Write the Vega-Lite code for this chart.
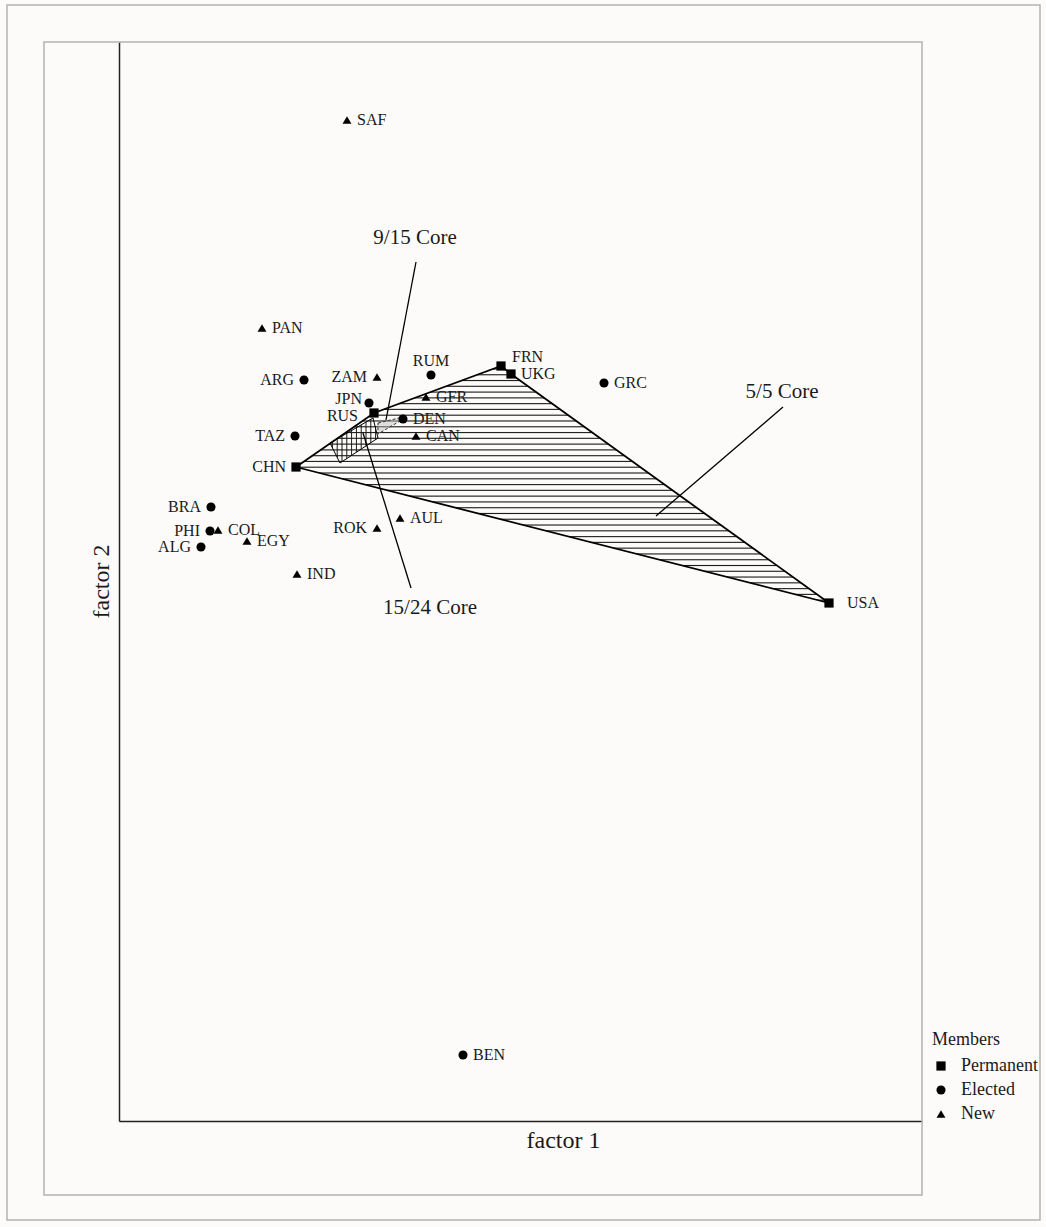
{
 "$schema": "https://vega.github.io/schema/vega-lite/v6.json",
 "width": 803,
 "height": 1079,
 "autosize": {"type": "none"},
 "padding": {"left": 119, "top": 42, "right": 124, "bottom": 106},
 "background": "#fdfbf9",
 "config": {
  "view": {"stroke": null},
  "font": "Liberation Serif",
  "axis": {"zindex": 1}
 },
 "datasets": {
  "members": [
   {"code": "SAF", "type": "New", "f1": 2.28, "f2": 10.01},
   {"code": "PAN", "type": "New", "f1": 1.43, "f2": 7.93},
   {"code": "ARG", "type": "Elected", "f1": 1.85, "f2": 7.41},
   {"code": "ZAM", "type": "New", "f1": 2.58, "f2": 7.44},
   {"code": "RUM", "type": "Elected", "f1": 3.12, "f2": 7.46},
   {"code": "FRN", "type": "Permanent", "f1": 3.82, "f2": 7.55},
   {"code": "UKG", "type": "Permanent", "f1": 3.92, "f2": 7.47},
   {"code": "GRC", "type": "Elected", "f1": 4.85, "f2": 7.38},
   {"code": "JPN", "type": "Elected", "f1": 2.5, "f2": 7.18},
   {"code": "RUS", "type": "Permanent", "f1": 2.55, "f2": 7.08},
   {"code": "DEN", "type": "Elected", "f1": 2.84, "f2": 7.02},
   {"code": "GFR", "type": "New", "f1": 3.07, "f2": 7.24},
   {"code": "CAN", "type": "New", "f1": 2.97, "f2": 6.85},
   {"code": "TAZ", "type": "Elected", "f1": 1.76, "f2": 6.85},
   {"code": "CHN", "type": "Permanent", "f1": 1.77, "f2": 6.54},
   {"code": "BRA", "type": "Elected", "f1": 0.92, "f2": 6.14},
   {"code": "PHI", "type": "Elected", "f1": 0.91, "f2": 5.9},
   {"code": "COL", "type": "New", "f1": 0.99, "f2": 5.91},
   {"code": "ALG", "type": "Elected", "f1": 0.82, "f2": 5.74},
   {"code": "EGY", "type": "New", "f1": 1.28, "f2": 5.8},
   {"code": "IND", "type": "New", "f1": 1.78, "f2": 5.47},
   {"code": "ROK", "type": "New", "f1": 2.58, "f2": 5.93},
   {"code": "AUL", "type": "New", "f1": 2.81, "f2": 6.03},
   {"code": "USA", "type": "Permanent", "f1": 7.1, "f2": 5.18},
   {"code": "BEN", "type": "Elected", "f1": 3.44, "f2": 0.66}
  ],
  "core55": [
   {"i": 0, "f1": 1.77, "f2": 6.54},
   {"i": 1, "f1": 2.55, "f2": 7.08},
   {"i": 2, "f1": 3.82, "f2": 7.55},
   {"i": 3, "f1": 3.92, "f2": 7.47},
   {"i": 4, "f1": 7.1, "f2": 5.18},
   {"i": 5, "f1": 1.77, "f2": 6.54}
  ],
  "core1524": [
   {"i": 0, "f1": 2.11, "f2": 6.78},
   {"i": 1, "f1": 2.54, "f2": 7.03},
   {"i": 2, "f1": 2.59, "f2": 6.83},
   {"i": 3, "f1": 2.21, "f2": 6.58},
   {"i": 4, "f1": 2.11, "f2": 6.78}
  ],
  "core915": [
   {"i": 0, "f1": 2.59, "f2": 6.98},
   {"i": 1, "f1": 2.84, "f2": 7.04},
   {"i": 2, "f1": 2.81, "f2": 7.0},
   {"i": 3, "f1": 2.59, "f2": 6.87},
   {"i": 4, "f1": 2.59, "f2": 6.98}
  ],
  "leaders": [
   {"label": "9/15 Core", "x1": 2.97, "y1": 8.59, "x2": 2.67, "y2": 7.01, "tx": 2.96, "ty": 8.83},
   {"label": "15/24 Core", "x1": 2.44, "y1": 6.88, "x2": 2.92, "y2": 5.33, "tx": 3.11, "ty": 5.13},
   {"label": "5/5 Core", "x1": 6.64, "y1": 7.14, "x2": 5.37, "y2": 6.05, "tx": 6.63, "ty": 7.29}
  ]
 },
 "layer": [
  {
   "data": {"values": [{}]},
   "mark": {"type": "rect", "filled": false, "stroke": "#b3b3b3", "strokeWidth": 1.5},
   "encoding": {
    "x": {"datum": -1.12, "type": "quantitative"},
    "x2": {"datum": 9.21},
    "y": {"datum": 11.16, "type": "quantitative"},
    "y2": {"datum": -0.99}
   }
  },
  {
   "data": {"values": [{}]},
   "mark": {"type": "rect", "filled": false, "stroke": "#b3b3b3", "strokeWidth": 1.5},
   "encoding": {
    "x": {"datum": -0.75, "type": "quantitative"},
    "x2": {"datum": 8.03},
    "y": {"datum": 10.79, "type": "quantitative"},
    "y2": {"datum": -0.74}
   }
  },
  {
   "data": {"name": "core55"},
   "mark": {
    "type": "line",
    "stroke": "black",
    "strokeWidth": 1.8,
    "strokeJoin": "miter",
    "fill": {
     "gradient": "linear", "x1": 0, "y1": 0, "x2": 0, "y2": 1,
     "stops": [
      {"offset": 0, "color": "transparent"},
      {"offset": 0.008, "color": "transparent"}, {"offset": 0.0125, "color": "#1a1a1a"}, {"offset": 0.017, "color": "transparent"},
      {"offset": 0.0324, "color": "transparent"}, {"offset": 0.0369, "color": "#1a1a1a"}, {"offset": 0.0414, "color": "transparent"},
      {"offset": 0.0568, "color": "transparent"}, {"offset": 0.0613, "color": "#1a1a1a"}, {"offset": 0.0658, "color": "transparent"},
      {"offset": 0.0812, "color": "transparent"}, {"offset": 0.0857, "color": "#1a1a1a"}, {"offset": 0.0902, "color": "transparent"},
      {"offset": 0.1056, "color": "transparent"}, {"offset": 0.1101, "color": "#1a1a1a"}, {"offset": 0.1146, "color": "transparent"},
      {"offset": 0.13, "color": "transparent"}, {"offset": 0.1345, "color": "#1a1a1a"}, {"offset": 0.139, "color": "transparent"},
      {"offset": 0.1543, "color": "transparent"}, {"offset": 0.1588, "color": "#1a1a1a"}, {"offset": 0.1633, "color": "transparent"},
      {"offset": 0.1787, "color": "transparent"}, {"offset": 0.1832, "color": "#1a1a1a"}, {"offset": 0.1877, "color": "transparent"},
      {"offset": 0.2031, "color": "transparent"}, {"offset": 0.2076, "color": "#1a1a1a"}, {"offset": 0.2121, "color": "transparent"},
      {"offset": 0.2275, "color": "transparent"}, {"offset": 0.232, "color": "#1a1a1a"}, {"offset": 0.2365, "color": "transparent"},
      {"offset": 0.2519, "color": "transparent"}, {"offset": 0.2564, "color": "#1a1a1a"}, {"offset": 0.2609, "color": "transparent"},
      {"offset": 0.2763, "color": "transparent"}, {"offset": 0.2808, "color": "#1a1a1a"}, {"offset": 0.2853, "color": "transparent"},
      {"offset": 0.3007, "color": "transparent"}, {"offset": 0.3052, "color": "#1a1a1a"}, {"offset": 0.3097, "color": "transparent"},
      {"offset": 0.3251, "color": "transparent"}, {"offset": 0.3296, "color": "#1a1a1a"}, {"offset": 0.3341, "color": "transparent"},
      {"offset": 0.3495, "color": "transparent"}, {"offset": 0.354, "color": "#1a1a1a"}, {"offset": 0.3585, "color": "transparent"},
      {"offset": 0.3739, "color": "transparent"}, {"offset": 0.3784, "color": "#1a1a1a"}, {"offset": 0.3829, "color": "transparent"},
      {"offset": 0.3982, "color": "transparent"}, {"offset": 0.4027, "color": "#1a1a1a"}, {"offset": 0.4072, "color": "transparent"},
      {"offset": 0.4226, "color": "transparent"}, {"offset": 0.4271, "color": "#1a1a1a"}, {"offset": 0.4316, "color": "transparent"},
      {"offset": 0.447, "color": "transparent"}, {"offset": 0.4515, "color": "#1a1a1a"}, {"offset": 0.456, "color": "transparent"},
      {"offset": 0.4714, "color": "transparent"}, {"offset": 0.4759, "color": "#1a1a1a"}, {"offset": 0.4804, "color": "transparent"},
      {"offset": 0.4958, "color": "transparent"}, {"offset": 0.5003, "color": "#1a1a1a"}, {"offset": 0.5048, "color": "transparent"},
      {"offset": 0.5202, "color": "transparent"}, {"offset": 0.5247, "color": "#1a1a1a"}, {"offset": 0.5292, "color": "transparent"},
      {"offset": 0.5446, "color": "transparent"}, {"offset": 0.5491, "color": "#1a1a1a"}, {"offset": 0.5536, "color": "transparent"},
      {"offset": 0.569, "color": "transparent"}, {"offset": 0.5735, "color": "#1a1a1a"}, {"offset": 0.578, "color": "transparent"},
      {"offset": 0.5934, "color": "transparent"}, {"offset": 0.5979, "color": "#1a1a1a"}, {"offset": 0.6024, "color": "transparent"},
      {"offset": 0.6178, "color": "transparent"}, {"offset": 0.6223, "color": "#1a1a1a"}, {"offset": 0.6268, "color": "transparent"},
      {"offset": 0.6421, "color": "transparent"}, {"offset": 0.6466, "color": "#1a1a1a"}, {"offset": 0.6511, "color": "transparent"},
      {"offset": 0.6665, "color": "transparent"}, {"offset": 0.671, "color": "#1a1a1a"}, {"offset": 0.6755, "color": "transparent"},
      {"offset": 0.6909, "color": "transparent"}, {"offset": 0.6954, "color": "#1a1a1a"}, {"offset": 0.6999, "color": "transparent"},
      {"offset": 0.7153, "color": "transparent"}, {"offset": 0.7198, "color": "#1a1a1a"}, {"offset": 0.7243, "color": "transparent"},
      {"offset": 0.7397, "color": "transparent"}, {"offset": 0.7442, "color": "#1a1a1a"}, {"offset": 0.7487, "color": "transparent"},
      {"offset": 0.7641, "color": "transparent"}, {"offset": 0.7686, "color": "#1a1a1a"}, {"offset": 0.7731, "color": "transparent"},
      {"offset": 0.7885, "color": "transparent"}, {"offset": 0.793, "color": "#1a1a1a"}, {"offset": 0.7975, "color": "transparent"},
      {"offset": 0.8129, "color": "transparent"}, {"offset": 0.8174, "color": "#1a1a1a"}, {"offset": 0.8219, "color": "transparent"},
      {"offset": 0.8373, "color": "transparent"}, {"offset": 0.8418, "color": "#1a1a1a"}, {"offset": 0.8463, "color": "transparent"},
      {"offset": 0.8617, "color": "transparent"}, {"offset": 0.8662, "color": "#1a1a1a"}, {"offset": 0.8707, "color": "transparent"},
      {"offset": 0.886, "color": "transparent"}, {"offset": 0.8905, "color": "#1a1a1a"}, {"offset": 0.895, "color": "transparent"},
      {"offset": 0.9104, "color": "transparent"}, {"offset": 0.9149, "color": "#1a1a1a"}, {"offset": 0.9194, "color": "transparent"},
      {"offset": 0.9348, "color": "transparent"}, {"offset": 0.9393, "color": "#1a1a1a"}, {"offset": 0.9438, "color": "transparent"},
      {"offset": 0.9592, "color": "transparent"}, {"offset": 0.9637, "color": "#1a1a1a"}, {"offset": 0.9682, "color": "transparent"},
      {"offset": 0.9836, "color": "transparent"}, {"offset": 0.9881, "color": "#1a1a1a"}, {"offset": 0.9926, "color": "transparent"},
      {"offset": 1, "color": "transparent"}
     ]
    }
   },
   "encoding": {
    "x": {"field": "f1", "type": "quantitative"},
    "y": {"field": "f2", "type": "quantitative"},
    "order": {"field": "i", "type": "quantitative"}
   }
  },
  {
   "data": {"name": "core1524"},
   "mark": {
    "type": "line",
    "stroke": "black",
    "strokeWidth": 1,
    "fill": {
     "gradient": "linear", "x1": 0, "y1": 0, "x2": 1, "y2": 0,
     "stops": [
      {"offset": 0, "color": "transparent"},
      {"offset": 0.03, "color": "transparent"}, {"offset": 0.05, "color": "#1a1a1a"}, {"offset": 0.07, "color": "transparent"},
      {"offset": 0.13, "color": "transparent"}, {"offset": 0.15, "color": "#1a1a1a"}, {"offset": 0.17, "color": "transparent"},
      {"offset": 0.23, "color": "transparent"}, {"offset": 0.25, "color": "#1a1a1a"}, {"offset": 0.27, "color": "transparent"},
      {"offset": 0.33, "color": "transparent"}, {"offset": 0.35, "color": "#1a1a1a"}, {"offset": 0.37, "color": "transparent"},
      {"offset": 0.43, "color": "transparent"}, {"offset": 0.45, "color": "#1a1a1a"}, {"offset": 0.47, "color": "transparent"},
      {"offset": 0.53, "color": "transparent"}, {"offset": 0.55, "color": "#1a1a1a"}, {"offset": 0.57, "color": "transparent"},
      {"offset": 0.63, "color": "transparent"}, {"offset": 0.65, "color": "#1a1a1a"}, {"offset": 0.67, "color": "transparent"},
      {"offset": 0.73, "color": "transparent"}, {"offset": 0.75, "color": "#1a1a1a"}, {"offset": 0.77, "color": "transparent"},
      {"offset": 0.83, "color": "transparent"}, {"offset": 0.85, "color": "#1a1a1a"}, {"offset": 0.87, "color": "transparent"},
      {"offset": 0.93, "color": "transparent"}, {"offset": 0.95, "color": "#1a1a1a"}, {"offset": 0.97, "color": "transparent"},
      {"offset": 1, "color": "transparent"}
     ]
    }
   },
   "encoding": {
    "x": {"field": "f1", "type": "quantitative"},
    "y": {"field": "f2", "type": "quantitative"},
    "order": {"field": "i", "type": "quantitative"}
   }
  },
  {
   "data": {"name": "core915"},
   "mark": {"type": "line", "stroke": "#333333", "strokeWidth": 1, "strokeDash": [3, 2], "fill": "#bbbbbb", "fillOpacity": 0.45},
   "encoding": {
    "x": {"field": "f1", "type": "quantitative"},
    "y": {"field": "f2", "type": "quantitative"},
    "order": {"field": "i", "type": "quantitative"}
   }
  },
  {
   "data": {"name": "leaders"},
   "mark": {"type": "rule", "stroke": "black", "strokeWidth": 1.3},
   "encoding": {
    "x": {"field": "x1", "type": "quantitative"},
    "y": {"field": "y1", "type": "quantitative"},
    "x2": {"field": "x2"},
    "y2": {"field": "y2"}
   }
  },
  {
   "data": {"name": "leaders"},
   "mark": {"type": "text", "fontSize": 21, "align": "center", "baseline": "middle", "color": "#1a1a1a"},
   "encoding": {
    "x": {"field": "tx", "type": "quantitative"},
    "y": {"field": "ty", "type": "quantitative"},
    "text": {"field": "label"}
   }
  },
  {
   "data": {"name": "members"},
   "mark": {"type": "point", "filled": true, "color": "black", "opacity": 1},
   "encoding": {
    "x": {
     "field": "f1", "type": "quantitative",
     "scale": {"domain": [0, 8.03], "nice": false, "zero": false},
     "axis": {"title": "factor 1", "domain": true, "domainColor": "#222222", "domainWidth": 1.5, "ticks": false, "labels": false, "grid": false, "titleFont": "Liberation Serif", "titleFontSize": 24, "titleFontWeight": "normal", "titleColor": "#1a1a1a", "titleX": 444, "titleY": 26, "titleBaseline": "alphabetic", "titleAlign": "center"}
    },
    "y": {
     "field": "f2", "type": "quantitative",
     "scale": {"domain": [0, 10.79], "nice": false, "zero": false},
     "axis": {"title": "factor 2", "domain": true, "domainColor": "#222222", "domainWidth": 1.5, "ticks": false, "labels": false, "grid": false, "titleFont": "Liberation Serif", "titleFontSize": 24, "titleFontWeight": "normal", "titleColor": "#1a1a1a", "titleX": -11, "titleY": 539, "titleAngle": -90, "titleBaseline": "alphabetic", "titleAlign": "center"}
    },
    "size": {
     "field": "type", "type": "nominal",
     "scale": {"domain": ["Permanent", "Elected", "New"], "range": [85, 80, 140]},
     "legend": {"title": "Members", "orient": "none", "legendX": 813, "legendY": 989, "titleFont": "Liberation Serif", "titleFontSize": 18, "titleFontWeight": "normal", "titleColor": "#1a1a1a", "labelFont": "Liberation Serif", "labelFontSize": 18, "labelColor": "#1a1a1a", "symbolFillColor": "black", "symbolStrokeColor": "black", "rowPadding": 6, "labelOffset": 11, "titlePadding": 8}
    },
    "shape": {
     "field": "type", "type": "nominal",
     "scale": {"domain": ["Permanent", "Elected", "New"], "range": ["square", "circle", "triangle-up"]},
     "legend": {"title": "Members", "orient": "none", "legendX": 813, "legendY": 989, "titleFont": "Liberation Serif", "titleFontSize": 18, "titleFontWeight": "normal", "titleColor": "#1a1a1a", "labelFont": "Liberation Serif", "labelFontSize": 18, "labelColor": "#1a1a1a", "symbolFillColor": "black", "symbolStrokeColor": "black", "rowPadding": 6, "labelOffset": 11, "titlePadding": 8}
    }
   }
  },
  {
   "data": {"name": "members"},
   "transform": [{"filter": {"field": "code", "oneOf": ["SAF", "PAN", "GFR", "CAN", "DEN", "GRC", "EGY", "IND", "BEN", "UKG", "AUL", "COL"]}}],
   "mark": {"type": "text", "align": "left", "baseline": "middle", "dx": 10, "fontSize": 16, "color": "#1a1a1a"},
   "encoding": {
    "x": {"field": "f1", "type": "quantitative"},
    "y": {"field": "f2", "type": "quantitative"},
    "text": {"field": "code"}
   }
  },
  {
   "data": {"name": "members"},
   "transform": [{"filter": {"field": "code", "oneOf": ["ARG", "ZAM", "TAZ", "CHN", "BRA", "PHI", "ALG", "ROK"]}}],
   "mark": {"type": "text", "align": "right", "baseline": "middle", "dx": -10, "fontSize": 16, "color": "#1a1a1a"},
   "encoding": {
    "x": {"field": "f1", "type": "quantitative"},
    "y": {"field": "f2", "type": "quantitative"},
    "text": {"field": "code"}
   }
  },
  {
   "data": {"name": "members"},
   "transform": [{"filter": {"field": "code", "equal": "USA"}}],
   "mark": {"type": "text", "align": "left", "baseline": "middle", "dx": 18, "fontSize": 16, "color": "#1a1a1a"},
   "encoding": {
    "x": {"field": "f1", "type": "quantitative"},
    "y": {"field": "f2", "type": "quantitative"},
    "text": {"field": "code"}
   }
  },
  {
   "data": {"name": "members"},
   "transform": [{"filter": {"field": "code", "equal": "FRN"}}],
   "mark": {"type": "text", "align": "left", "baseline": "middle", "dx": 11, "dy": -9, "fontSize": 16, "color": "#1a1a1a"},
   "encoding": {
    "x": {"field": "f1", "type": "quantitative"},
    "y": {"field": "f2", "type": "quantitative"},
    "text": {"field": "code"}
   }
  },
  {
   "data": {"name": "members"},
   "transform": [{"filter": {"field": "code", "equal": "RUS"}}],
   "mark": {"type": "text", "align": "right", "baseline": "middle", "dx": -16, "dy": 3, "fontSize": 16, "color": "#1a1a1a"},
   "encoding": {
    "x": {"field": "f1", "type": "quantitative"},
    "y": {"field": "f2", "type": "quantitative"},
    "text": {"field": "code"}
   }
  },
  {
   "data": {"name": "members"},
   "transform": [{"filter": {"field": "code", "equal": "JPN"}}],
   "mark": {"type": "text", "align": "right", "baseline": "middle", "dx": -7, "dy": -4, "fontSize": 16, "color": "#1a1a1a"},
   "encoding": {
    "x": {"field": "f1", "type": "quantitative"},
    "y": {"field": "f2", "type": "quantitative"},
    "text": {"field": "code"}
   }
  },
  {
   "data": {"name": "members"},
   "transform": [{"filter": {"field": "code", "equal": "RUM"}}],
   "mark": {"type": "text", "align": "center", "baseline": "middle", "dy": -14, "fontSize": 16, "color": "#1a1a1a"},
   "encoding": {
    "x": {"field": "f1", "type": "quantitative"},
    "y": {"field": "f2", "type": "quantitative"},
    "text": {"field": "code"}
   }
  }
 ]
}
